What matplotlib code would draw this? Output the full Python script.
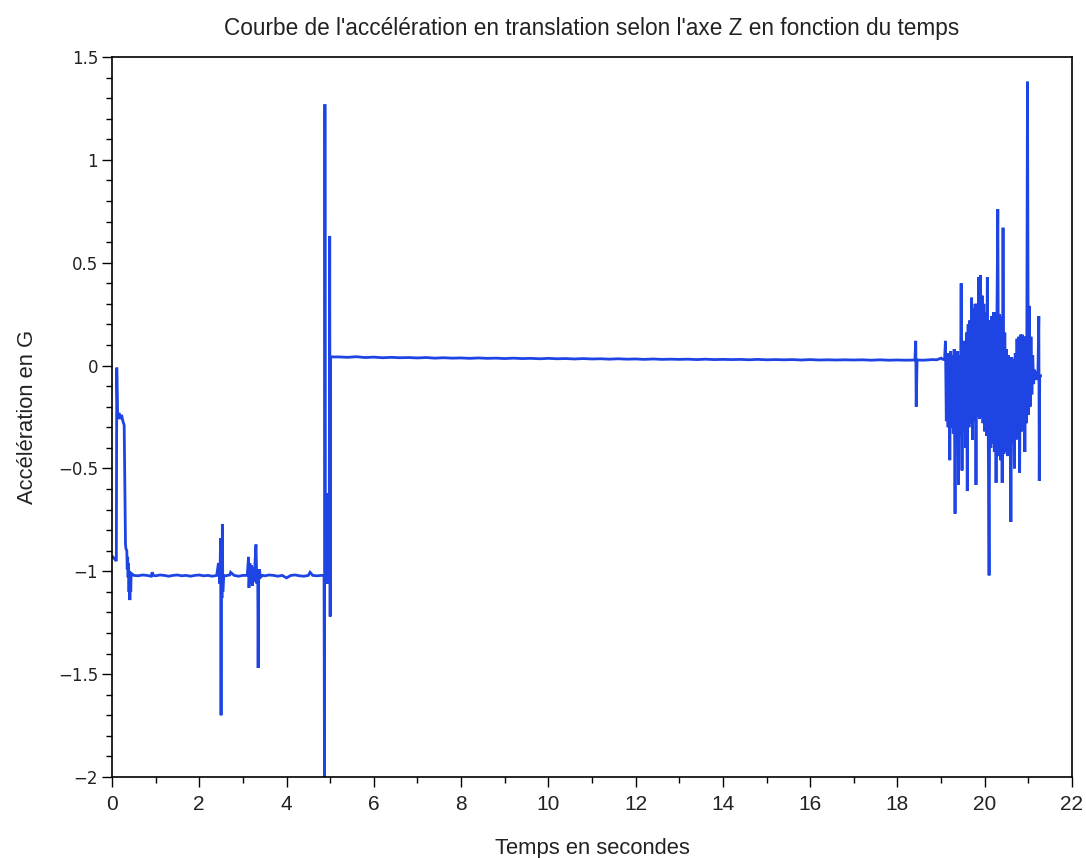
import matplotlib
matplotlib.use("Agg")
import matplotlib.pyplot as plt
import matplotlib.ticker as mticker
import numpy as np

# ── Data (time in s, acceleration in G) ──────────────────────────────────────

# start: lift-off from rest, short plateau then settling around -1 G
t_start = [0.02, 0.10, 0.11, 0.13, 0.16, 0.19, 0.22, 0.25, 0.28, 0.31, 0.32,
           0.34, 0.35, 0.36, 0.37, 0.38, 0.39, 0.40, 0.41, 0.42, 0.43, 0.44]
a_start = [-0.93, -0.95, -0.01, -0.26, -0.23, -0.26, -0.24, -0.27, -0.29, -0.87,
           -0.89, -0.90, -0.99, -0.93, -1.03, -0.96, -1.10, -1.00, -1.14, -1.02,
           -1.10, -1.01]

# flat section around -1 G with two bursts near 2.5 s and 3.3 s
t_flat1 = [0.50, 0.60, 0.70, 0.80, 0.90, 0.92, 0.95, 1.00, 1.10, 1.20, 1.30,
           1.40, 1.50, 1.60, 1.70, 1.80, 1.90, 2.00, 2.10, 2.20, 2.30, 2.40,
           2.44, 2.47, 2.49, 2.50, 2.51, 2.52, 2.53, 2.54, 2.56, 2.60, 2.70,
           2.72, 2.80, 2.90, 3.00, 3.10, 3.13, 3.14, 3.16, 3.18, 3.20, 3.22,
           3.24, 3.26, 3.28, 3.30, 3.32, 3.34, 3.35, 3.36, 3.38, 3.40, 3.45,
           3.50, 3.60, 3.70, 3.80, 3.90, 4.00, 4.10, 4.20, 4.30, 4.40, 4.50,
           4.54, 4.60, 4.70, 4.80, 4.86]
a_flat1 = [-1.02, -1.022, -1.018, -1.02, -1.024, -1.005, -1.02, -1.022, -1.018,
           -1.02, -1.024, -1.02, -1.018, -1.022, -1.02, -1.024, -1.02, -1.018,
           -1.022, -1.02, -1.024, -1.02, -0.96, -1.06, -0.84, -1.70, -0.90,
           -1.13, -0.77, -1.10, -1.02, -1.022, -1.018, -1.005, -1.02, -1.024,
           -1.02, -1.02, -0.93, -1.08, -0.96, -1.06, -0.97, -1.07, -0.98,
           -1.05, -0.95, -0.87, -1.06, -0.99, -1.47, -1.04, -0.99, -1.03,
           -1.02, -1.022, -1.018, -1.02, -1.024, -1.02, -1.032, -1.02, -1.018,
           -1.022, -1.024, -1.02, -1.005, -1.02, -1.022, -1.02, -1.02]

# impact around 4.9 s
t_impact = [4.87, 4.88, 4.89, 4.90, 4.91, 4.92, 4.93, 4.94, 4.95, 4.96,
            4.97, 4.98, 4.99, 5.00, 5.01, 5.02]
a_impact = [-2.00, 1.27, -1.00, -0.64, -1.04, -0.62, -1.06, -0.63, -1.02,
            -0.65, -1.05, -0.62, 0.63, -1.22, 0.03, 0.042]

# plateau just above 0 G with a small glitch near 18.4 s
t_plateau = [5.20, 5.40, 5.60, 5.80, 6.00, 6.20, 6.40, 6.60, 6.80, 7.00, 7.20,
             7.40, 7.60, 7.80, 8.00, 8.20, 8.40, 8.60, 8.80, 9.00, 9.20, 9.40,
             9.60, 9.80, 10.00, 10.20, 10.40, 10.60, 10.80, 11.00, 11.20, 11.40,
             11.60, 11.80, 12.00, 12.20, 12.40, 12.60, 12.80, 13.00, 13.20,
             13.40, 13.60, 13.80, 14.00, 14.20, 14.40, 14.60, 14.80, 15.00,
             15.20, 15.40, 15.60, 15.80, 16.00, 16.20, 16.40, 16.60, 16.80,
             17.00, 17.20, 17.40, 17.60, 17.80, 18.00, 18.20, 18.40, 18.42,
             18.43, 18.45, 18.60, 18.80, 18.90, 19.00, 19.04]
a_plateau = [0.042, 0.040, 0.043, 0.039, 0.041, 0.038, 0.040, 0.038, 0.039,
             0.037, 0.039, 0.036, 0.038, 0.036, 0.037, 0.035, 0.037, 0.035,
             0.036, 0.034, 0.036, 0.034, 0.035, 0.033, 0.035, 0.033, 0.034,
             0.032, 0.034, 0.032, 0.033, 0.031, 0.033, 0.031, 0.032, 0.030,
             0.032, 0.030, 0.031, 0.030, 0.031, 0.029, 0.031, 0.029, 0.030,
             0.029, 0.030, 0.028, 0.030, 0.028, 0.029, 0.028, 0.029, 0.027,
             0.029, 0.027, 0.028, 0.027, 0.028, 0.027, 0.028, 0.026, 0.028,
             0.026, 0.027, 0.026, 0.027, 0.12, -0.20, 0.027, 0.026, 0.029,
             0.028, 0.036, 0.030]

# landing / shaking phase at the end
t_shake = [19.08, 19.10, 19.12, 19.14, 19.16, 19.18, 19.20, 19.22, 19.24,
           19.26, 19.28, 19.30, 19.32, 19.34, 19.36, 19.38, 19.40, 19.42,
           19.44, 19.46, 19.48, 19.50, 19.52, 19.54, 19.56, 19.58, 19.60,
           19.62, 19.64, 19.66, 19.68, 19.70, 19.72, 19.74, 19.76, 19.78,
           19.80, 19.82, 19.84, 19.86, 19.88, 19.90, 19.92, 19.94, 19.96,
           19.98, 20.00, 20.02, 20.04, 20.06, 20.08, 20.10, 20.12, 20.14,
           20.16, 20.18, 20.20, 20.22, 20.24, 20.26, 20.28, 20.30, 20.32,
           20.34, 20.36, 20.38, 20.40, 20.42, 20.44, 20.46, 20.48, 20.50,
           20.52, 20.54, 20.56, 20.58, 20.60, 20.62, 20.64, 20.66, 20.68,
           20.70, 20.72, 20.74, 20.76, 20.78, 20.80, 20.82, 20.84, 20.86,
           20.88, 20.90, 20.92, 20.94, 20.96, 20.98, 21.00, 21.02, 21.04,
           21.06, 21.08, 21.10, 21.12, 21.14, 21.16, 21.18, 21.20, 21.22,
           21.24, 21.25, 21.26, 21.28]
a_shake = [0.03, 0.12, -0.27, 0.06, -0.30, 0.05, -0.46, 0.07, -0.30, 0.05,
           -0.33, 0.08, -0.72, 0.06, -0.32, 0.07, -0.58, 0.05, -0.34, 0.40,
           -0.51, 0.10, -0.32, 0.12, -0.40, 0.16, -0.61, 0.20, -0.30, 0.22,
           -0.28, 0.33, -0.36, 0.28, -0.27, 0.30, -0.58, 0.30, -0.25, 0.43,
           -0.26, 0.44, -0.25, 0.34, -0.28, 0.30, -0.32, 0.26, -0.34, 0.43,
           -0.32, -1.02, 0.22, -0.40, 0.24, -0.38, 0.26, -0.42, 0.26, -0.57,
           0.24, 0.76, -0.44, 0.25, -0.46, 0.24, -0.57, 0.67, -0.43, 0.16,
           -0.42, 0.08, -0.44, 0.05, -0.40, 0.04, -0.76, 0.04, -0.38, 0.03,
           -0.50, 0.06, -0.36, 0.13, -0.32, 0.14, -0.52, 0.15, -0.32, 0.15,
           -0.30, 0.14, -0.42, 0.14, -0.28, 1.38, -0.24, 0.29, -0.20, 0.14,
           -0.14, 0.05, -0.09, -0.02, -0.07, -0.03, -0.07, -0.03, 0.24, -0.56,
           -0.05, -0.05]

TITLE = "Courbe de l'accélération en translation selon l'axe Z en fonction du temps"
XLABEL = "Temps en secondes"
YLABEL = "Accélération en G"
XTICKS = [0, 2, 4, 6, 8, 10, 12, 14, 16, 18, 20, 22]
YTICKS = [-2, -1.5, -1, -0.5, 0, 0.5, 1, 1.5]

LINE_COLOR = "#1e44e4"
TEXT_FONT = ["Liberation Sans", "DejaVu Sans"]

# ── Figure ───────────────────────────────────────────────────────────────────
t = np.concatenate([t_start, t_flat1, t_impact, t_plateau, t_shake])
a = np.concatenate([a_start, a_flat1, a_impact, a_plateau, a_shake])

fig = plt.figure(figsize=(10.86, 8.58), dpi=100)
ax = fig.add_axes([0.1031, 0.0944, 0.8840, 0.8392])
ax.plot(t, a, color=LINE_COLOR, linewidth=2.0, solid_joinstyle="miter")

ax.set_xlim(0, 22)
ax.set_ylim(-2, 1.5)
ax.set_xticks(XTICKS)
ax.set_xticklabels([f"{v:g}" for v in XTICKS], family=TEXT_FONT, fontsize=15,
                   color="#222222")
ax.set_yticks(YTICKS)
ax.set_yticklabels([f"{v:g}".replace("-", "\u2212") for v in YTICKS],
                   family="DejaVu Sans", fontsize=12, color="#222222")
ax.xaxis.set_minor_locator(mticker.MultipleLocator(1))
ax.yaxis.set_minor_locator(mticker.MultipleLocator(0.1))
ax.tick_params(which="both", direction="out", top=False, right=False,
               color="black", width=1)
ax.tick_params(which="major", length=7)
ax.tick_params(which="minor", length=4)
ax.tick_params(axis="x", pad=6)
ax.tick_params(axis="y", pad=3)
for s in ax.spines.values():
    s.set_linewidth(1.2)
    s.set_color("black")

ax.set_title(TITLE, family=TEXT_FONT, fontsize=16.3, pad=16, color="#222222")
ax.set_xlabel(XLABEL, family=TEXT_FONT, fontsize=15.8, labelpad=17,
              color="#222222")
ax.set_ylabel(YLABEL, family=TEXT_FONT, fontsize=15.8, labelpad=14,
              color="#222222")

fig.savefig("out.png", dpi=100)
